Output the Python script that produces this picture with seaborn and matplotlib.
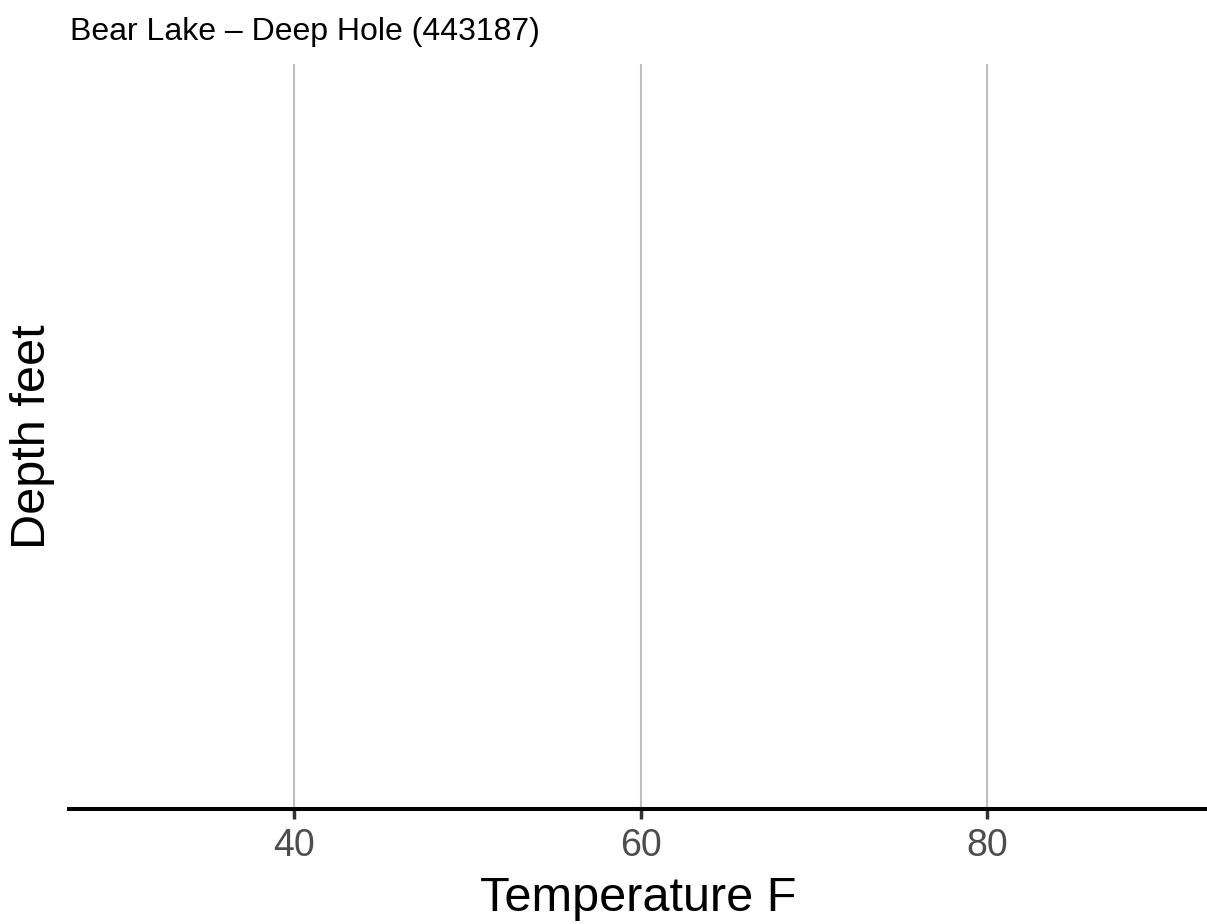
import matplotlib
matplotlib.use("Agg")
import matplotlib.pyplot as plt
import seaborn as sns
import pandas as pd

# Data (the reference chart shows no measurements)
temperature_f = []
depth_ft = []
x_ticks = [40, 60, 80]
x_tick_labels = ["40", "60", "80"]
title = "Bear Lake \u2013 Deep Hole (443187)"

sns.set_theme(style="white")
plt.rcParams['font.family'] = ['Liberation Sans', 'DejaVu Sans']

fig = plt.figure(figsize=(12.07, 9.24), dpi=100)
ax = fig.add_axes([0.0572, 0.1245, 0.9428, 0.8062])

df = pd.DataFrame({"Temperature": pd.Series(temperature_f, dtype=float),
                   "Depth": pd.Series(depth_ft, dtype=float)})
if len(df):
    sns.lineplot(data=df, x="Temperature", y="Depth", ax=ax, sort=False)

ax.set_xlim(27.0, 92.7)
ax.set_ylim(1, 0)
ax.set_xticks(x_ticks)
ax.set_xticklabels(x_tick_labels)
ax.set_yticks([])

ax.grid(axis="x", color="#BEBEBE", linewidth=1.5)
ax.grid(axis="y", visible=False)
ax.set_axisbelow(True)

for s in ["top", "right", "left"]:
    ax.spines[s].set_visible(False)
ax.spines["bottom"].set_color("black")
ax.spines["bottom"].set_linewidth(2.9)
ax.spines["bottom"].set_zorder(3)

ax.tick_params(axis="x", which="major", bottom=True, length=7, width=2.5,
               color="#333333", labelcolor="#4D4D4D", labelsize=27, pad=7)

ax.set_xlabel("Temperature F", fontsize=35, color="black", labelpad=8)
ax.set_ylabel("Depth feet", fontsize=35, color="black", labelpad=10)

fig.text(0.058, 0.965, title, fontsize=23, color="black", ha="left", va="center")

fig.savefig("out.png", dpi=100, facecolor="white")
